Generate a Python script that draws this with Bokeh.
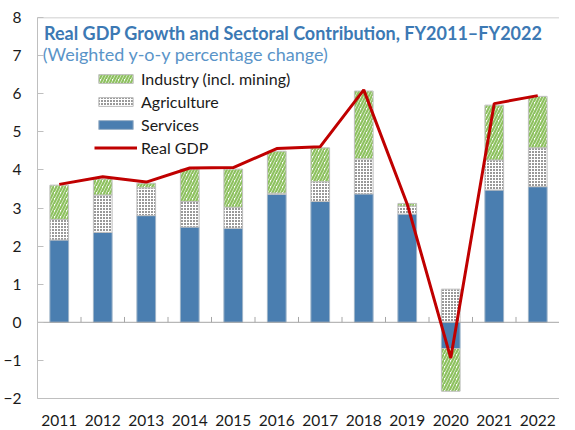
from bokeh.plotting import figure
from bokeh.models import (ColumnDataSource, Range1d, FixedTicker, Legend, LegendItem, Label, Span)
from bokeh.embed import file_html
from bokeh.resources import INLINE

years = ["2011", "2012", "2013", "2014", "2015", "2016", "2017", "2018", "2019", "2020", "2021", "2022"]
services = [2.16, 2.36, 2.80, 2.50, 2.47, 3.36, 3.17, 3.37, 2.84, -0.69, 3.47, 3.56]
agriculture = [0.54, 0.98, 0.73, 0.67, 0.55, 0.03, 0.52, 0.92, 0.21, 0.87, 0.79, 1.02]
industry = [0.90, 0.42, 0.12, 0.85, 1.00, 1.10, 0.89, 1.78, 0.07, -1.12, 1.44, 1.35]
real_gdp = [3.62, 3.82, 3.68, 4.05, 4.06, 4.56, 4.61, 6.10, 3.10, -0.94, 5.74, 5.95]
y_ticks = [-2, -1, 0, 1, 2, 3, 4, 5, 6, 7, 8]

FONT = "Lato"
AXIS_GREY = "#BFBFBF"

# stacked bottoms/tops, positive up from 0, negative down from 0
pos = [0.0] * len(years)
neg = [0.0] * len(years)
stacks = {}
for name, vals in (("services", services), ("agriculture", agriculture), ("industry", industry)):
    bottoms, tops = [], []
    for i, v in enumerate(vals):
        if v >= 0:
            bottoms.append(pos[i]); tops.append(pos[i] + v); pos[i] += v
        else:
            bottoms.append(neg[i]); tops.append(neg[i] + v); neg[i] += v
    stacks[name] = ColumnDataSource(dict(x=years, bottom=bottoms, top=tops))

p = figure(x_range=years, y_range=Range1d(-2, 8), width=559, height=428,
           output_backend="svg", toolbar_location=None,
           min_border_left=32, min_border_right=0, min_border_top=17, min_border_bottom=0)
p.outline_line_color = None
p.xgrid.grid_line_color = None
p.ygrid.grid_line_color = None
p.background_fill_color = "white"
p.border_fill_color = "white"

# top border of the plot area
p.add_layout(Span(location=8, dimension="width", line_color=AXIS_GREY, line_width=1.5))

bw = 0.43
r_serv = p.vbar(x="x", bottom="bottom", top="top", width=bw, source=stacks["services"],
                fill_color="#4A7EB0", line_color="#9DB3C8", line_width=1)
r_agri = p.vbar(x="x", bottom="bottom", top="top", width=bw, source=stacks["agriculture"],
                fill_color="white", line_color=AXIS_GREY, line_width=1,
                hatch_pattern=".", hatch_color="black", hatch_scale=3, hatch_weight=2.3)
r_ind = p.vbar(x="x", bottom="bottom", top="top", width=bw, source=stacks["industry"],
               fill_color="white", line_color=AXIS_GREY, line_width=1,
               hatch_pattern="/", hatch_color="#8DC15F", hatch_scale=6, hatch_weight=2.2)

# zero line with category boundary ticks
p.line(x=[0, len(years)], y=[0, 0], line_color="#A6A6A6", line_width=1)
bounds = list(range(1, len(years)))
p.segment(x0=bounds, y0=[0] * len(bounds), x1=bounds, y1=[0.14] * len(bounds),
          line_color="#A6A6A6", line_width=1)

r_gdp = p.line(x=years, y=real_gdp, line_color="#C00000", line_width=3)

# axes
p.yaxis.ticker = FixedTicker(ticks=y_ticks)
p.yaxis.axis_line_color = AXIS_GREY
p.yaxis.major_tick_line_color = AXIS_GREY
p.yaxis.major_tick_in = 6
p.yaxis.major_tick_out = 0
p.yaxis.minor_tick_line_color = None
p.yaxis.major_label_standoff = 16
p.yaxis.major_label_text_font = FONT
p.yaxis.major_label_text_font_size = "15.5px"
p.yaxis.major_label_text_color = "#1a1a1a"

p.xaxis.axis_line_color = AXIS_GREY
p.xaxis.major_tick_line_color = None
p.xaxis.minor_tick_line_color = None
p.xaxis.major_label_standoff = 10
p.xaxis.major_label_text_font = FONT
p.xaxis.major_label_text_font_size = "15.5px"
p.xaxis.major_label_text_color = "#1a1a1a"

# title / subtitle inside the plot
p.add_layout(Label(x=0.15, y=7.6, text="Real GDP Growth and Sectoral Contribution, FY2011\u2013FY2022",
                   text_font=FONT, text_font_style="bold", text_font_size="18px",
                   text_color="#3C79B4", text_baseline="alphabetic"))
p.add_layout(Label(x=0.12, y=7.03, text="(Weighted y-o-y percentage change)",
                   text_font=FONT, text_font_size="18px",
                   text_color="#5A94C8", text_baseline="alphabetic"))

legend = Legend(items=[
    LegendItem(label="Industry (incl. mining)", renderers=[r_ind]),
    LegendItem(label="Agriculture", renderers=[r_agri]),
    LegendItem(label="Services", renderers=[r_serv]),
    LegendItem(label="Real GDP", renderers=[r_gdp]),
], location=(57, 241))
legend.border_line_color = None
legend.background_fill_alpha = 0
legend.padding = 0
legend.margin = 0
legend.spacing = 3
legend.glyph_width = 43
legend.glyph_height = 11
legend.label_height = 20
legend.label_standoff = 4
legend.label_text_font = FONT
legend.label_text_font_size = "16px"
legend.label_text_color = "#1a1a1a"
p.add_layout(legend)

open("out.html", "w").write(file_html(p, INLINE))
